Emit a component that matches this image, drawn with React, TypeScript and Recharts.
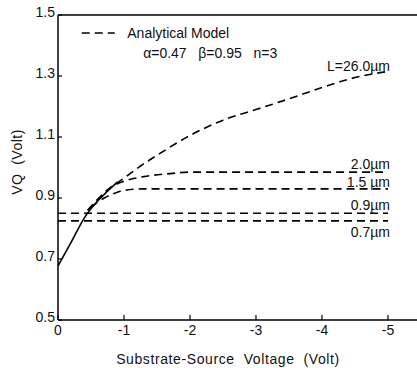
import React from 'react';
import { LineChart, Line, XAxis, YAxis, ReferenceLine, ReferenceDot } from 'recharts';

// Substrate-source voltage (V) and VQ (V)
const solidX = [0, -0.2, -0.4, -0.6, -0.75, -0.9];
const solidY = [0.677, 0.755, 0.835, 0.89, 0.922, 0.952];

const l26X = [-0.45, -0.6, -0.8, -1, -1.25, -1.5, -2, -2.5, -3, -3.5, -4, -4.5, -5];
const l26Y = [0.86, 0.895, 0.935, 0.965, 1.005, 1.04, 1.105, 1.155, 1.19, 1.225, 1.262, 1.295, 1.315];

const l20X = [-0.45, -0.6, -0.8, -1, -1.3, -1.7, -2, -3, -4, -5];
const l20Y = [0.86, 0.895, 0.935, 0.955, 0.97, 0.98, 0.985, 0.985, 0.985, 0.985];

const l15X = [-0.5, -0.7, -0.85, -1, -1.3, -2, -3, -4, -5];
const l15Y = [0.87, 0.9, 0.915, 0.925, 0.93, 0.93, 0.93, 0.93, 0.93];

const l09X = [0, -5];
const l09Y = [0.85, 0.85];

const l07X = [0, -5];
const l07Y = [0.825, 0.825];

const xTicks = [0, -1, -2, -3, -4, -5];
const yTicks = [0.5, 0.7, 0.9, 1.1, 1.3, 1.5];

const toPts = (xs: number[], ys: number[]) => xs.map((x, i) => ({ v: x, vq: ys[i] }));

const FONT = 'Liberation Sans, Arial, sans-serif';
const DASH = '8 5';

const YTick = (props: any) => {
  const { x, y, payload } = props;
  return (
    <g>
      <line x1={x + 4} y1={y} x2={x + 8} y2={y} stroke="#000" strokeWidth={1.2} />
      <text x={x + 1} y={y} dy={2} textAnchor="end" fontSize={14} fontFamily={FONT} fill="#111">
        {payload.value.toFixed(1)}
      </text>
    </g>
  );
};

const XTick = (props: any) => {
  const { x, y, payload } = props;
  const v = payload.value;
  return (
    <g>
      <line x1={x} y1={y - 4} x2={x} y2={y - 9} stroke="#000" strokeWidth={1.2} />
      <text x={x} y={y} dy={11} textAnchor="middle" fontSize={14} fontFamily={FONT} fill="#111">
        {v === 0 ? '0' : `-${Math.abs(v)}`}
      </text>
    </g>
  );
};

const YTitle = () => {
  const cx = 17;
  const cy = 162;
  return (
    <text x={cx} y={cy} dy={5} transform={`rotate(-90 ${cx} ${cy})`} textAnchor="middle" fontSize={14} fontFamily={FONT} fill="#111" letterSpacing={0.5}>
      VQ&nbsp;&nbsp;(Volt)
    </text>
  );
};

const XTitle = () => (
  <text x={228} y={364} textAnchor="middle" fontSize={14} fontFamily={FONT} fill="#111" letterSpacing={0.6}>
    Substrate-Source&nbsp;&nbsp;Voltage&nbsp;&nbsp;(Volt)
  </text>
);

const textLabel = (txt: string, anchor: 'start' | 'end' = 'end') => (props: any) => {
  const { viewBox } = props;
  return (
    <text x={viewBox.x} y={viewBox.y} dy={5} textAnchor={anchor} fontSize={14} fontFamily={FONT} fill="#111" style={{ whiteSpace: 'pre' }}>
      {txt}
    </text>
  );
};

export default function App() {
  return (
    <div style={{ position: 'absolute', left: 0, top: 0, background: '#fff' }}>
      <LineChart width={417} height={368} margin={{ top: 15, right: 0, bottom: 0, left: 0 }}>
        <XAxis
          type="number"
          dataKey="v"
          domain={[-5.44, 0]}
          reversed
          ticks={xTicks}
          allowDataOverflow
          tickSize={0}
          tickMargin={4}
          tick={<XTick />}
          axisLine={{ stroke: '#000', strokeWidth: 1.5 }}
          height={48}
          label={<XTitle />}
        />
        <YAxis
          type="number"
          dataKey="vq"
          domain={[0.5, 1.5]}
          ticks={yTicks}
          allowDataOverflow
          tickSize={0}
          tickMargin={4}
          tick={<YTick />}
          axisLine={{ stroke: '#000', strokeWidth: 1.5 }}
          width={58}
          label={<YTitle />}
        />
        <ReferenceLine y={1.5} stroke="#000" strokeWidth={1.5} />
        <Line data={toPts(solidX, solidY)} dataKey="vq" stroke="#000" strokeWidth={1.6} dot={false} type="monotone" isAnimationActive={false} />
        <Line data={toPts(l26X, l26Y)} dataKey="vq" stroke="#000" strokeWidth={1.6} strokeDasharray={DASH} dot={false} type="monotone" isAnimationActive={false} />
        <Line data={toPts(l20X, l20Y)} dataKey="vq" stroke="#000" strokeWidth={1.6} strokeDasharray={DASH} dot={false} type="monotone" isAnimationActive={false} />
        <Line data={toPts(l15X, l15Y)} dataKey="vq" stroke="#000" strokeWidth={1.6} strokeDasharray={DASH} dot={false} type="monotone" isAnimationActive={false} />
        <Line data={toPts(l09X, l09Y)} dataKey="vq" stroke="#000" strokeWidth={1.6} strokeDasharray={DASH} dot={false} type="linear" isAnimationActive={false} />
        <Line data={toPts(l07X, l07Y)} dataKey="vq" stroke="#000" strokeWidth={1.6} strokeDasharray={DASH} dot={false} type="linear" isAnimationActive={false} />
        <ReferenceLine segment={[{ x: -0.36, y: 1.441 }, { x: -0.86, y: 1.441 }]} stroke="#000" strokeWidth={1.6} strokeDasharray={DASH} />
        <ReferenceDot x={-1.05} y={1.441} r={0} label={textLabel('Analytical Model', 'start')} />
        <ReferenceDot x={-1.29} y={1.375} r={0} label={textLabel('α=0.47\u00a0\u00a0\u00a0β=0.95\u00a0\u00a0\u00a0n=3', 'start')} />
        <ReferenceDot x={-5.03} y={1.333} r={0} label={textLabel('L=26.0µm')} />
        <ReferenceDot x={-5.03} y={1.011} r={0} label={textLabel('2.0µm')} />
        <ReferenceDot x={-5.03} y={0.952} r={0} label={textLabel('1.5\u00a0µm')} />
        <ReferenceDot x={-5.03} y={0.877} r={0} label={textLabel('0.9µm')} />
        <ReferenceDot x={-5.03} y={0.789} r={0} label={textLabel('0.7µm')} />
      </LineChart>
    </div>
  );
}
